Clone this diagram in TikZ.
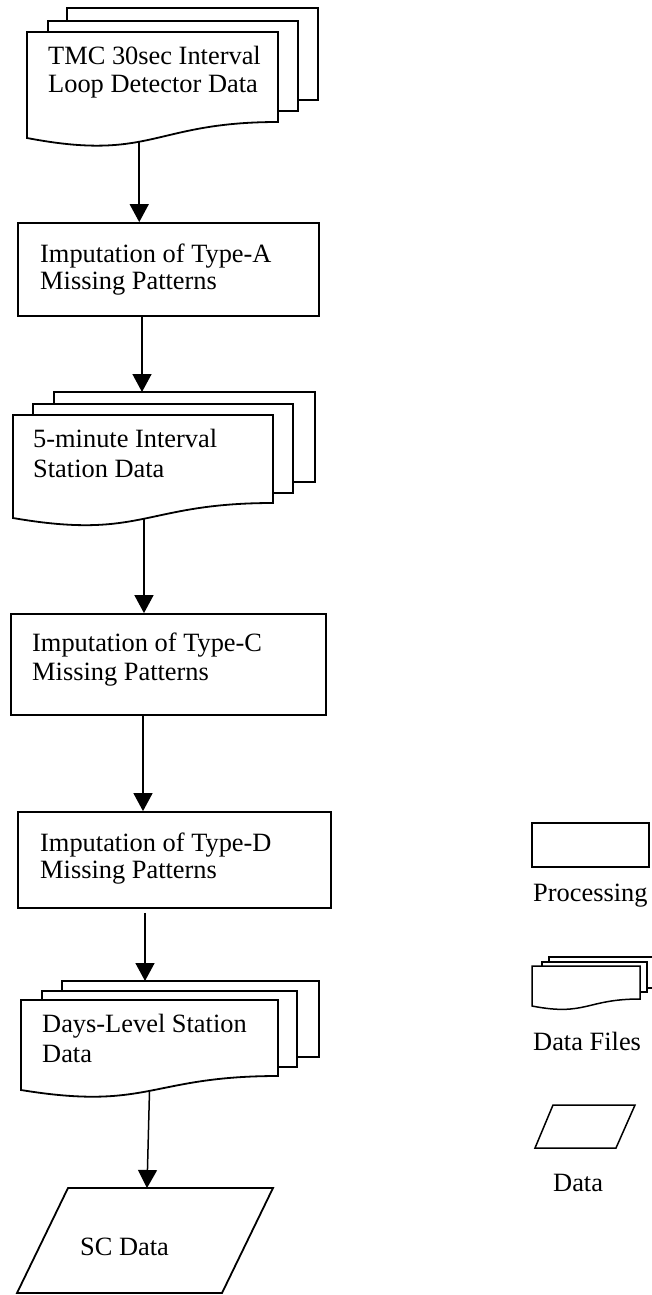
\documentclass[tikz,border=0pt]{standalone}
\usepackage{fontspec}
\setmainfont{Liberation Serif}
\usetikzlibrary{arrows.meta}
\begin{document}
\begin{tikzpicture}[x=1pt,y=-1pt,
  shp/.style={draw=black,line width=1.8pt},
  docfront/.style={shp,fill=white},
  procbox/.style={shp,rectangle,inner sep=0pt},
  arr/.style={draw=black,line width=1.5pt,-{Triangle[width=19pt,length=18pt]}},
  txt/.style={anchor=base west,inner sep=0pt,font=\fontsize{26.4}{28}\selectfont}]
\useasboundingbox (0,0) rectangle (652,1295);
\fill[white] (0,0) rectangle (652,1295);

% ---------- Document 1: TMC 30sec Interval ----------
\draw[shp] (67,21) -- (67,8) -- (318,8) -- (318,100) -- (298,100);
\draw[shp] (48,32) -- (48,21) -- (298,21) -- (298,111) -- (278,111);
\draw[docfront] (278,122) -- (278,32) -- (27,32) -- (27,138)
  .. controls (152.5,162) and (152.5,122) .. (278,122) coordinate[pos=0.43] (w1) -- cycle;
\node[txt] (t1a) at (48,65) {TMC 30sec Interval};
\node[txt] (t1b) at (48,93) {Loop Detector Data};

% ---------- Box A ----------
\node[procbox,minimum width=301pt,minimum height=93pt] (boxA) at (168.5,269.5) {};
\node[txt] (tAa) at (40,262) {Imputation of Type-A};
\node[txt] (tAb) at (40,289) {Missing Patterns};

% ---------- Document 2: 5-minute Interval ----------
\draw[shp] (54,404) -- (54,392) -- (315,392) -- (315,482) -- (293,482);
\draw[shp] (33,415) -- (33,404) -- (293,404) -- (293,493) -- (273,493);
\draw[docfront] (273,503) -- (273,415) -- (13,415) -- (13,518)
  .. controls (143,540.5) and (143,503) .. (273,503) coordinate[pos=0.505] (w2) -- cycle;
\coordinate (d2top) at (142,392);
\node[txt] (t2a) at (33,447) {5-minute Interval};
\node[txt] (t2b) at (33,477) {Station Data};

% ---------- Box C ----------
\node[procbox,minimum width=315pt,minimum height=101pt] (boxC) at (168.5,664.5) {};
\node[txt] (tCa) at (32,651) {Imputation of Type-C};
\node[txt] (tCb) at (32,680) {Missing Patterns};

% ---------- Box D ----------
\node[procbox,minimum width=313pt,minimum height=96pt] (boxD) at (174.5,860) {};
\node[txt] (tDa) at (40,851) {Imputation of Type-D};
\node[txt] (tDb) at (40,878) {Missing Patterns};
\coordinate (cAx) at (143,0);

% ---------- Document 3: Days-Level Station Data ----------
\draw[shp] (62,991) -- (62,981) -- (319,981) -- (319,1057) -- (297,1057);
\draw[shp] (42,1000) -- (42,991) -- (297,991) -- (297,1067) -- (278,1067);
\draw[docfront] (278,1076) -- (278,1000) -- (21,1000) -- (21,1090)
  .. controls (149.5,1111) and (149.5,1076) .. (278,1076) coordinate[pos=0.5] (w3) -- cycle;
\coordinate (d3top) at (145,981);
\node[txt] (t3a) at (42,1032) {Days-Level Station};
\node[txt] (t3b) at (42,1062) {Data};

% ---------- SC Data ----------
\draw[shp] (68,1188) coordinate (scA) -- (273,1188) -- (222,1293) -- (17,1293) -- cycle;
\coordinate (sctop) at (147,1188);
\node[txt] (tSC) at (80,1255) {SC Data};

% ---------- Connectors ----------
\draw[arr] (w1) -- (w1 |- boxA.north);
\draw[arr] (boxA.south -| d2top) -- (d2top);
\draw[arr] (w2) -- (w2 |- boxC.north);
\draw[arr] (boxC.south -| cAx) -- (boxD.north -| cAx);
\draw[arr] ([yshift=-4pt]boxD.south -| d3top) -- (d3top);
\draw[arr] (w3) -- (sctop);

% ---------- Legend ----------
\node[procbox,line width=1.5pt,minimum width=117pt,minimum height=44pt] (lgProc) at (590.5,845) {};
\node[txt] (lgProcT) at (533,901) {Processing};

\draw[shp,line width=1.5pt] (549,962) -- (549,957) -- (656,957) -- (656,988) -- (647,988);
\draw[shp,line width=1.5pt] (542,966) -- (542,962) -- (647,962) -- (647,992) -- (640,992);
\draw[docfront,line width=1.5pt] (640,999) -- (640,966) -- (532,966) -- (532,1006)
  .. controls (586,1016.5) and (586,999) .. (640,999) -- cycle;
\node[txt] (lgDocT) at (533,1050) {Data Files};

\draw[shp,line width=1.5pt] (553,1105) coordinate (lgD) -- (635,1105) -- (616,1148) -- (535,1148) -- cycle;
\node[txt] (lgDataT) at (553,1191) {Data};
\end{tikzpicture}
\end{document}
